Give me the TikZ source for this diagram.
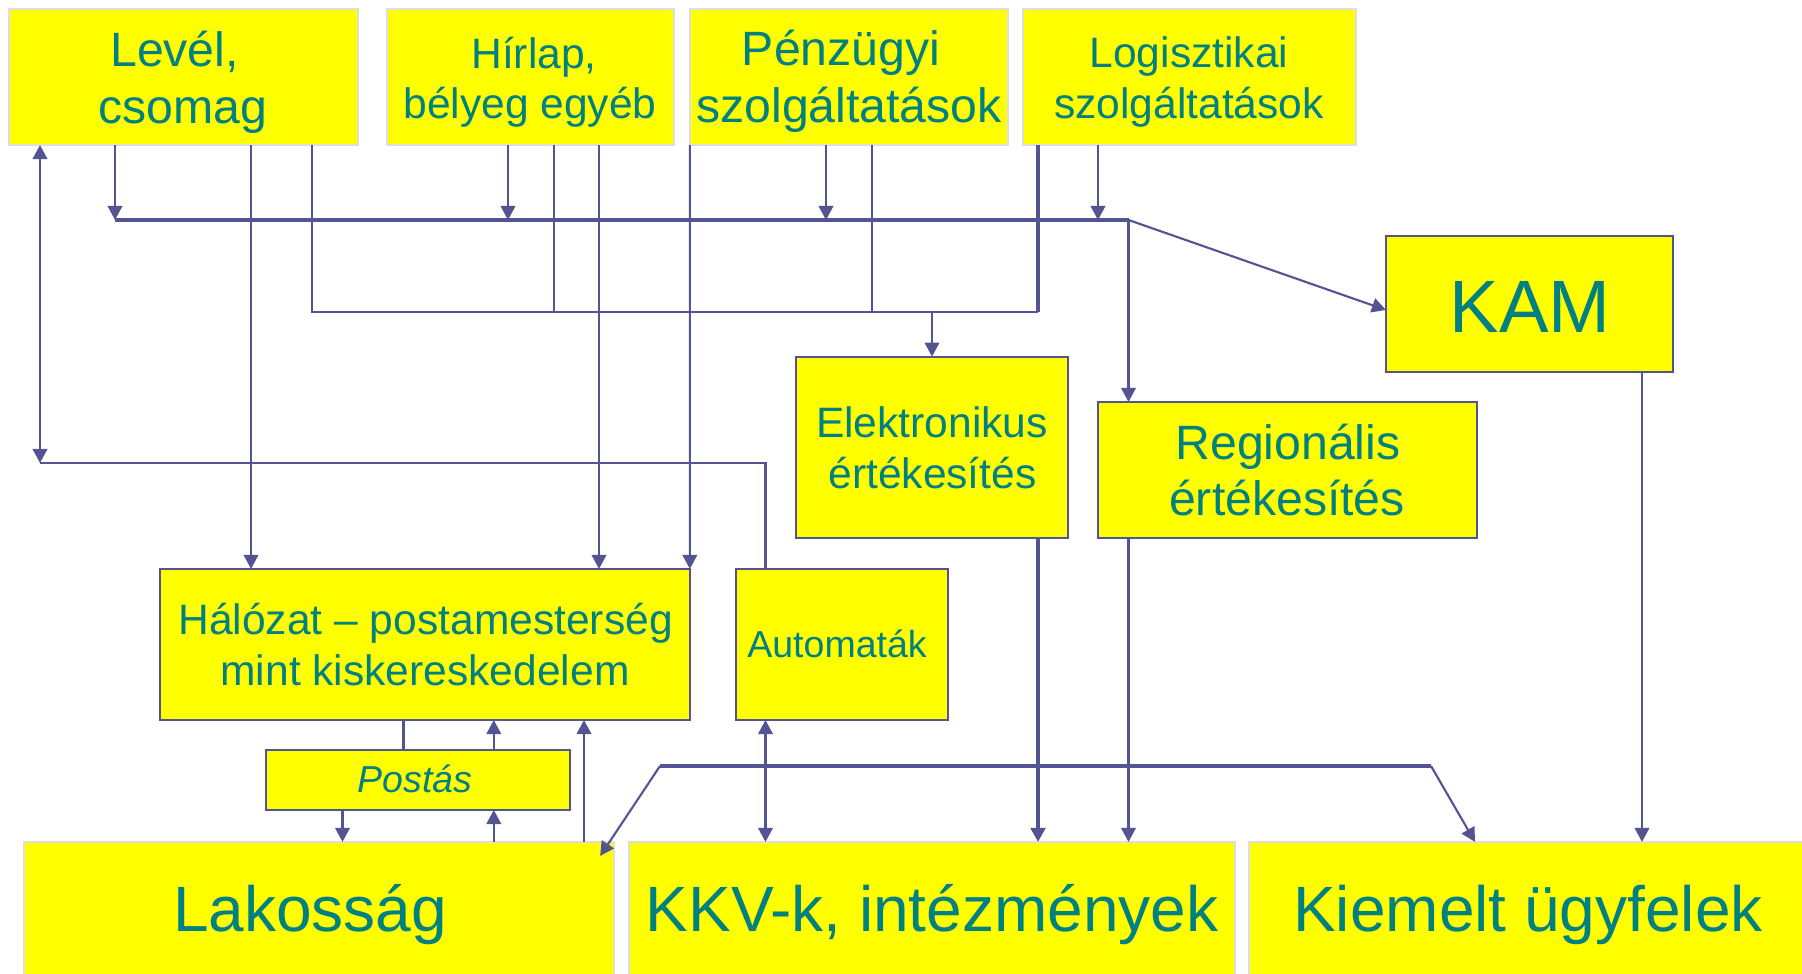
\documentclass[tikz,border=0pt]{standalone}
\usepackage{fontspec}
\setmainfont{Liberation Sans}
\usetikzlibrary{arrows.meta,calc}
\definecolor{lnc}{RGB}{84,84,146}
\definecolor{txc}{RGB}{0,128,128}
\definecolor{yel}{RGB}{255,255,0}
\definecolor{lgc}{RGB}{222,222,222}
\tikzset{
  box/.style={draw=lnc, line width=0.6pt, fill=yel, inner sep=0pt, outer sep=0pt},
  lbox/.style={box, draw=lgc},
  txt/.style={text=txc, inner sep=0pt, outer sep=0pt, anchor=base},
  fa/.style={font=\fontsize{10.67}{12.6}\selectfont},
  fb/.style={font=\fontsize{12.1}{14.3}\selectfont},
  fc/.style={font=\fontsize{13.7}{16.2}\selectfont},
  fd/.style={font=\fontsize{18.2}{21.5}\selectfont},
  fe/.style={font=\fontsize{21.1}{25}\selectfont},
  con/.style={draw=lnc, line width=0.6pt},
  thk/.style={line width=1pt},
  med/.style={line width=0.8pt},
  arr/.style={con, -{Triangle[length=0.14cm,width=0.145cm]}},
  darr/.style={con, {Triangle[length=0.14cm,width=0.145cm]}-{Triangle[length=0.14cm,width=0.145cm]}}
}
\begin{document}
\begin{tikzpicture}[x=0.01cm, y=-0.01cm]
\useasboundingbox (0,0) rectangle (1802,974);
\clip (0,0) rectangle (1802,974);
\fill[white] (0,0) rectangle (1802,974);

% top boxes
\node[lbox, minimum width=3.49cm, minimum height=1.36cm] (lev) at (183.5,77) {};
\node[lbox, minimum width=2.865cm, minimum height=1.36cm] (hir) at (530.75,77) {};
\node[lbox, minimum width=3.18cm, minimum height=1.36cm] (pen) at (849,77) {};
\node[lbox, minimum width=3.325cm, minimum height=1.36cm] (log) at (1189.2,77) {};
\node[txt, fc] (levA) at (174.5,66.7) {Levél,};
\node[txt, fc] (levB) at (183,124) {csomag};
\node[txt, fb] (hirA) at (534,68.3) {Hírlap,};
\node[txt, fb] (hirB) at (530,118.3) {bélyeg egyéb};
\node[txt, fc] (penA) at (841,65.7) {Pénzügyi};
\node[txt, fc] (penB) at (849,122.7) {szolgáltatások};
\node[txt, fb] (logA) at (1189,67.7) {Logisztikai};
\node[txt, fb] (logB) at (1189,118.3) {szolgáltatások};

% middle boxes
\node[box, minimum width=2.87cm, minimum height=1.36cm] (kam) at (1529.5,304) {};
\node[txt, fe] (kamA) at (1530,332.3) {KAM};
\node[box, minimum width=2.72cm, minimum height=1.813cm] (ele) at (932,447.35) {};
\node[txt, fb] (eleA) at (932,437.3) {Elektronikus};
\node[txt, fb] (eleB) at (932.5,488.3) {értékesítés};
\node[box, minimum width=3.79cm, minimum height=1.36cm] (reg) at (1287.5,470) {};
\node[txt, fc] (regA) at (1288,460) {Regionális};
\node[txt, fc] (regB) at (1287,516) {értékesítés};
\node[box, minimum width=5.292cm, minimum height=1.51cm] (hal) at (425.1,644.5) {};
\node[txt, fb] (halA) at (425.6,635) {Hálózat – postamesterség};
\node[txt, fb] (halB) at (425,686) {mint kiskereskedelem};
\node[box, minimum width=2.118cm, minimum height=1.51cm] (aut) at (841.7,644.5) {};
\node[txt, fa] (autA) at (837,657.7) {Automaták};
\node[box, minimum width=3.035cm, minimum height=0.60cm] (pos) at (417.75,780) {};
\node[txt, font=\fontsize{10.67}{12.6}\selectfont\itshape] (posA) at (415,792.7) {Postás};

% bottom boxes
\node[lbox, minimum width=5.90cm, minimum height=2.58cm] (lak) at (319,971) {};
\node[lbox, minimum width=6.06cm, minimum height=2.58cm] (kkv) at (932,971) {};
\node[lbox, minimum width=5.58cm, minimum height=2.58cm] (kie) at (1528,971) {};
\node[txt, fd] (lakt) at (310,932) {Lakosság};
\node[txt, fd] (kkvt) at (932,932) {KKV-k, intézmények};
\node[txt, fd] (kiet) at (1528,932) {Kiemelt ügyfelek};

% coordinates
\coordinate (f1) at (115,220); \coordinate (f2) at (508,220);
\coordinate (f3) at (826,220); \coordinate (f4) at (1098,220);
\coordinate (b1e) at (1128.5,220);
\coordinate (g1) at (312,312); \coordinate (g2) at (554,312);
\coordinate (g3) at (872,312); \coordinate (g4) at (1038,312);
\coordinate (g5) at (932,312);
\coordinate (h1) at (251,0); \coordinate (h2) at (599,0);
\coordinate (dl) at (40,463); \coordinate (dr) at (765.5,463);
\coordinate (k1) at (1642,0); \coordinate (k2) at (1475,0);
\coordinate (p1) at (403.5,0); \coordinate (p2) at (493.8,0);
\coordinate (p3) at (342.5,0); \coordinate (p4) at (584,0);
\coordinate (b3s) at (660,766); \coordinate (b3e) at (1431,766);

% bus 1
\draw[arr] (lev.south -| f1) -- (f1);
\draw[arr] (hir.south -| f2) -- (f2);
\draw[arr] (pen.south -| f3) -- (f3);
\draw[arr] (log.south -| f4) -- (f4);
\draw[con, thk] (f1) -- (b1e);
\draw[arr] (b1e) -- ($(kam.west)+(0,6)$);
\draw[arr] (b1e) -- (reg.north -| b1e);

% bus 2
\draw[con] (lev.south -| g1) -- (g1) -- (g4);
\draw[con] (hir.south -| g2) -- (g2);
\draw[con] (pen.south -| g3) -- (g3);
\draw[con, thk] (log.south -| g4) -- (g4);
\draw[arr] (g5) -- (ele.north);

% feeders to Hálózat
\draw[arr] (lev.south -| h1) -- (hal.north -| h1);
\draw[arr] (hir.south -| h2) -- (hal.north -| h2);
\draw[arr] (pen.south west) -- (hal.north east);

% loop to Automaták
\draw[darr] (lev.south -| dl) -- (dl);
\draw[con, med] (dl) -- (dr) -- (aut.north -| dr);

% down to customers
\draw[arr, thk] (ele.south -| g4) -- (kkv.north -| g4);
\draw[arr] (reg.south -| b1e) -- (kkv.north -| b1e);
\draw[arr] (kam.south -| k1) -- (kie.north -| k1);

% Postás
\draw[con] (hal.south -| p1) -- (pos.north -| p1);
\draw[arr] (pos.north -| p2) -- (hal.south -| p2);
\draw[arr] (pos.south -| p3) -- (lak.north -| p3);
\draw[arr] (lak.north -| p2) -- (pos.south -| p2);
\draw[arr] (lak.north -| p4) -- (hal.south -| p4);
\draw[darr] (aut.south -| dr) -- (kkv.north -| dr);

% bus 3
\draw[con, thk] (b3s) -- (b3e);
\draw[arr] (b3s) -- ($(lak.north east)+(-14,14)$);
\draw[arr] (b3e) -- (kie.north -| k2);
\end{tikzpicture}
\end{document}
